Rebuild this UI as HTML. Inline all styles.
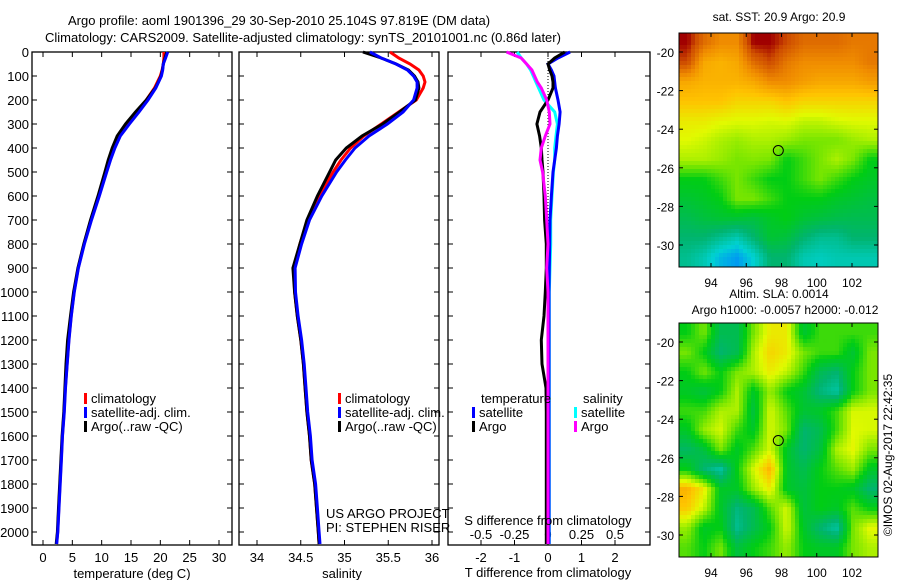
<!DOCTYPE html>
<html><head><meta charset="utf-8"><style>
body{margin:0;background:#fff}
svg{display:block;font-family:"Liberation Sans",sans-serif;font-size:13px}
</style></head><body>
<svg id="fig" width="900" height="580" viewBox="0 0 900 580">
<text x="68" y="25">Argo profile: aoml 1901396_29 30-Sep-2010 25.104S 97.819E (DM data)</text>
<text x="45" y="42">Climatology: CARS2009. Satellite-adjusted climatology: synTS_20101001.nc (0.86d later)</text>
<g id="g"></g>
<text transform="translate(892,455) rotate(-90)" text-anchor="middle" font-size="12">©IMOS 02-Aug-2017 22:42:35</text>
</svg>
<script>
// ---- data ----
const depths = [0,25,50,75,100,125,150,200,250,300,350,400,450,500,600,700,800,900,1000,1100,1200,1300,1400,1500,1600,1700,1800,1900,2000,2050];
const tempClim = [20.6,20.6,20.5,20.3,20.0,19.5,19.0,17.6,16.0,14.4,12.9,12.0,11.3,10.7,9.5,8.2,7.0,6.0,5.3,4.8,4.4,4.1,3.8,3.6,3.3,3.1,2.9,2.7,2.5,2.3];
const salClim = [35.52,35.62,35.75,35.85,35.9,35.92,35.9,35.82,35.62,35.42,35.22,35.07,34.96,34.87,34.71,34.58,34.49,34.42,34.43,34.46,34.5,34.53,34.55,34.57,34.6,34.62,34.66,34.68,34.7,34.71];
const tempSatDiff = [0.66,0.3,0.0,0.1,0.18,0.2,0.22,0.3,0.36,0.33,0.28,0.25,0.2,0.15,0.1,0.06,0.05,0.04,0.03,0.03,0.03,0.03,0.03,0.03,0.03,0.03,0.03,0.03,0.03,0.03];
const tempArgoDiff = [0.5,0.2,0.0,0.05,0.12,0.15,0.15,0.0,-0.24,-0.33,-0.25,-0.2,-0.18,-0.15,-0.12,-0.1,-0.05,-0.05,-0.08,-0.12,-0.2,-0.18,-0.06,-0.05,-0.05,-0.05,-0.05,-0.05,-0.05,-0.05];
const salSatDiff = [-0.23,-0.2,-0.16,-0.13,-0.11,-0.09,-0.07,-0.03,0.05,0.07,0.06,0.05,0.05,0.04,0.03,0.02,0.02,0.015,0.01,0.01,0.01,0.01,0.01,0.01,0.01,0.01,0.01,0.01,0.01,0.01];
const salArgoDiff = [-0.31,-0.2,-0.16,-0.12,-0.1,-0.08,-0.05,-0.01,0.01,0.015,-0.02,-0.05,-0.06,-0.04,-0.02,-0.01,0.0,-0.01,0.0,0.0,0.0,0.0,0.0,0.0,0.0,0.0,0.0,0.0,0.0,0.0];
const depthTicks = [0,100,200,300,400,500,600,700,800,900,1000,1100,1200,1300,1400,1500,1600,1700,1800,1900,2000];
const tempTicks = [0,5,10,15,20,25,30];
const salTicks = [34,34.5,35,35.5,36];
const tdTicks = [-2,-1,0,1,2];
const sdTicks = [-0.5,-0.25,0,0.25,0.5];
const sstGrid = [
[1,.9,.85,.85,1,1,.95,.9,.9,.9,.88,.88],
[.95,.8,.78,.8,.9,.95,.88,.85,.85,.85,.85,.88],
[.8,.78,.78,.78,.8,.85,.85,.82,.8,.8,.8,.82],
[.75,.75,.75,.72,.72,.72,.75,.72,.72,.72,.72,.72],
[.68,.68,.66,.65,.65,.64,.65,.62,.62,.64,.65,.65],
[.65,.63,.6,.58,.6,.6,.58,.55,.55,.55,.58,.6],
[.6,.6,.58,.55,.56,.55,.45,.5,.55,.6,.55,.45],
[.45,.45,.5,.55,.5,.45,.45,.5,.55,.5,.45,.42],
[.4,.42,.45,.55,.55,.5,.45,.45,.45,.42,.4,.38],
[.35,.38,.4,.4,.38,.42,.45,.4,.38,.36,.35,.35],
[.3,.3,.25,.2,.3,.4,.38,.3,.25,.25,.3,.3],
[.25,.2,.1,.05,.15,.3,.3,.2,.18,.2,.2,.2]];
const slaGrid = [
[.45,.55,.35,.35,.55,.68,.68,.4,.5,.5,.5,.5],
[.55,.45,.3,.35,.6,.72,.68,.55,.5,.5,.4,.55],
[.45,.55,.45,.55,.6,.68,.62,.5,.35,.3,.45,.55],
[.42,.38,.45,.6,.42,.58,.45,.4,.28,.22,.45,.55],
[.5,.5,.6,.6,.38,.64,.52,.4,.42,.5,.64,.64],
[.42,.58,.64,.5,.42,.64,.55,.3,.35,.5,.65,.64],
[.32,.38,.55,.42,.52,.64,.42,.3,.38,.6,.66,.55],
[.45,.3,.22,.45,.64,.78,.42,.35,.45,.52,.58,.42],
[.78,.68,.42,.42,.58,.68,.42,.38,.45,.45,.42,.3],
[.74,.62,.42,.28,.35,.52,.64,.38,.45,.42,.52,.45],
[.58,.42,.45,.25,.35,.45,.64,.42,.3,.22,.55,.66],
[.52,.45,.55,.38,.45,.5,.58,.45,.42,.42,.55,.6]];
const lonTicks = [94,96,98,100,102];
const latTicks = [-20,-22,-24,-26,-28,-30];
const argoLon = 97.819, argoLat = -25.104;

// ---- helpers ----
const NS='http://www.w3.org/2000/svg';
const G=document.getElementById('g');
function mk(tag,attrs,parent){const e=document.createElementNS(NS,tag);for(const k in attrs)e.setAttribute(k,attrs[k]);(parent||G).appendChild(e);return e;}
const Y0=52, PXD=0.24, PB=545;
const yD=d=>Y0+d*PXD;
function lin(v0,p0,v1,p1){return v=>p0+(v-v0)*(p1-p0)/(v1-v0);}
function frame(x0,x1,name){
  const r=mk('rect',{x:x0,y:Y0,width:x1-x0,height:PB-Y0,fill:'none',stroke:'#000','stroke-width':1.3});
  
  
  depthTicks.forEach(d=>{
    mk('line',{x1:x0,x2:x0+5,y1:yD(d),y2:yD(d),stroke:'#000'});
    mk('line',{x1:x1,x2:x1-5,y1:yD(d),y2:yD(d),stroke:'#000'});
  });
}
function xticks(ticks,sx,labels,y,name){
  ticks.forEach((t,i)=>{
    mk('line',{x1:sx(t),x2:sx(t),y1:PB,y2:PB-5,stroke:'#000'});
    mk('line',{x1:sx(t),x2:sx(t),y1:Y0,y2:Y0+5,stroke:'#000'});
    const tx=mk('text',{x:sx(t),y:y,'text-anchor':'middle'});tx.textContent=labels[i];
    
    
  });
}
function line(vals,sx,color,name,w){
  const pts=vals.map((v,i)=>sx(v).toFixed(1)+','+yD(depths[i]).toFixed(1)).join(' ');
  const p=mk('polyline',{points:pts,fill:'none',stroke:color,'stroke-width':w||3});
  
  
}
function legend(x,y,color,label,name){
  mk('rect',{x:x,y:y-10,width:3,height:11,fill:color});
  const t=mk('text',{x:x+7,y:y});t.textContent=label;
  
  
}

// depth labels
depthTicks.forEach(d=>{const t=mk('text',{x:29,y:yD(d)+5,'text-anchor':'end'});t.textContent=d;
  
  });

// panel 1 temperature
const sT=lin(0,43,30,219);
frame(32,232,'temperature-panel');
xticks(tempTicks,sT,tempTicks.map(String),562,'temperature-tick-label');
line(tempClim,sT,'#f00','temp-climatology-line');
line(tempClim.map((v,i)=>v+tempArgoDiff[i]),sT,'#000','temp-argo-line');
line(tempClim.map((v,i)=>v+tempSatDiff[i]),sT,'#0000ff','temp-satellite-line');
{const t=mk('text',{x:132,y:578,'text-anchor':'middle'});t.textContent='temperature (deg C)';}
legend(84,403,'#f00','climatology','legend-climatology');
legend(84,417,'#00f','satellite-adj. clim.','legend-satellite');
legend(84,431,'#000','Argo(..raw -QC)','legend-argo');

// panel 2 salinity
const sS=lin(34,257,36,432);
frame(239,439,'salinity-panel');
xticks(salTicks,sS,salTicks.map(String),562,'salinity-tick-label');
line(salClim,sS,'#f00','sal-climatology-line');
line(salClim.map((v,i)=>v+salArgoDiff[i]),sS,'#000','sal-argo-line');
line(salClim.map((v,i)=>v+salSatDiff[i]),sS,'#0000ff','sal-satellite-line');
{const t=mk('text',{x:342,y:578,'text-anchor':'middle'});t.textContent='salinity';}
legend(338,403,'#f00','climatology','legend-climatology-2');
legend(338,417,'#00f','satellite-adj. clim.','legend-satellite-2');
legend(338,431,'#000','Argo(..raw -QC)','legend-argo-2');
{const t=mk('text',{x:326,y:518});t.textContent='US ARGO PROJECT';
 const t2=mk('text',{x:326,y:532});t2.textContent='PI: STEPHEN RISER';}

// panel 3 differences
const sTD=lin(0,548,1,581.5), sSD=lin(0,548,0.25,581.5);
frame(448,650,'difference-panel');
tdTicks.forEach(t=>{mk('line',{x1:sTD(t),x2:sTD(t),y1:PB,y2:PB-5,stroke:'#000'});mk('line',{x1:sTD(t),x2:sTD(t),y1:Y0,y2:Y0+5,stroke:'#000'});
  const tx=mk('text',{x:sTD(t),y:562,'text-anchor':'middle'});tx.textContent=t;});
sdTicks.forEach(t=>{const tx=mk('text',{x:sSD(t),y:539,'text-anchor':'middle'});tx.textContent=t;});
mk('line',{x1:548,x2:548,y1:Y0,y2:PB,stroke:'#000','stroke-dasharray':'1,2'});
line(salSatDiff,sSD,'#00ffff','sdiff-satellite-line');
line(tempSatDiff,sTD,'#0000ff','tdiff-satellite-line');
line(tempArgoDiff,sTD,'#000','tdiff-argo-line');
line(salArgoDiff,sSD,'#ff00ff','sdiff-argo-line');
{const t=mk('text',{x:548,y:525,'text-anchor':'middle'});t.textContent='S difference from climatology';
 const t2=mk('text',{x:548,y:577,'text-anchor':'middle'});t2.textContent='T difference from climatology';
 const t3=mk('text',{x:481,y:403});t3.textContent='temperature';
 const t4=mk('text',{x:583,y:403});t4.textContent='salinity';}
legend(472,417,'#00f','satellite','legend-t-satellite');
legend(472,431,'#000','Argo','legend-t-argo');
legend(574,417,'#0ff','satellite','legend-s-satellite');
legend(574,431,'#f0f','Argo','legend-s-argo');

// maps
const stops=[[0,[0,128,255]],[.15,[0,210,210]],[.3,[0,180,110]],[.45,[0,205,20]],[.55,[120,230,0]],[.65,[225,250,0]],[.75,[255,195,0]],[.85,[240,140,0]],[.95,[205,75,0]],[1,[160,0,0]]];
function cmap(v){for(let i=1;i<stops.length;i++){if(v<=stops[i][0]){const a=stops[i-1],b=stops[i],f=(v-a[0])/(b[0]-a[0]);return 'rgb('+a[1].map((c,k)=>Math.round(c+(b[1][k]-c)*f)).join(',')+')';}}return 'rgb(160,0,0)';}
function sample(grid,gx,gy){
  const nr=grid.length,nc=grid[0].length;
  gx=Math.max(0,Math.min(nc-1,gx));gy=Math.max(0,Math.min(nr-1,gy));
  const i=Math.min(nc-2,Math.floor(gx)),j=Math.min(nr-2,Math.floor(gy)),fx=gx-i,fy=gy-j;
  return grid[j][i]*(1-fx)*(1-fy)+grid[j][i+1]*fx*(1-fy)+grid[j+1][i]*(1-fx)*fy+grid[j+1][i+1]*fx*fy;
}
const defs=mk('defs',{});
function map(top,grid,name,title1,title2){
  const x0=679,x1=878,y0=top,y1=top+234;
  const sx=lin(94,711,102,852), sy=lin(-20,y0+19,-30,y0+212);
  const gc=mk('g',{});
  
  
  const nr=grid.length,nc=grid[0].length,cw=(x1-x0)/nc,ch=(y1-y0)/nr,S=4;
  for(let py=y0;py<y1;py+=S){for(let px=x0;px<x1;px+=S){
    const v=sample(grid,(px+S/2-x0)/cw-0.5,(py+S/2-y0)/ch-0.5);
    mk('rect',{x:px,y:py,width:Math.min(S+0.5,x1-px),height:Math.min(S+0.5,y1-py),fill:cmap(v)},gc);
  }}
  mk('rect',{x:x0,y:y0,width:x1-x0,height:y1-y0,fill:'none',stroke:'#000'});
  lonTicks.forEach(l=>{mk('line',{x1:sx(l),x2:sx(l),y1:y1,y2:y1-4,stroke:'#000'});mk('line',{x1:sx(l),x2:sx(l),y1:y0,y2:y0+4,stroke:'#000'});
    const t=mk('text',{x:sx(l),y:y1+20,'text-anchor':'middle',"font-size":12});t.textContent=l;});
  latTicks.forEach(l=>{mk('line',{x1:x0,x2:x0+4,y1:sy(l),y2:sy(l),stroke:'#000'});mk('line',{x1:x1,x2:x1-4,y1:sy(l),y2:sy(l),stroke:'#000'});
    const t=mk('text',{x:x0-5,y:sy(l)+5,'text-anchor':'end',"font-size":12});t.textContent=l;});
  const c=mk('circle',{cx:sx(argoLon),cy:sy(argoLat),r:5,fill:'none',stroke:'#000'});
  
  
  const t1=mk('text',{x:779,y:title2?top-25:top-12,'text-anchor':'middle','font-size':12});t1.textContent=title1;
  if(title2){const t2=mk('text',{x:785,y:top-9,'text-anchor':'middle','font-size':12});t2.textContent=title2;}
}
map(33,sstGrid,'sst-map','sat. SST: 20.9 Argo: 20.9');
map(323,slaGrid,'sla-map','Altim. SLA: 0.0014','Argo h1000: -0.0057 h2000: -0.012');
</script>
</body></html>
